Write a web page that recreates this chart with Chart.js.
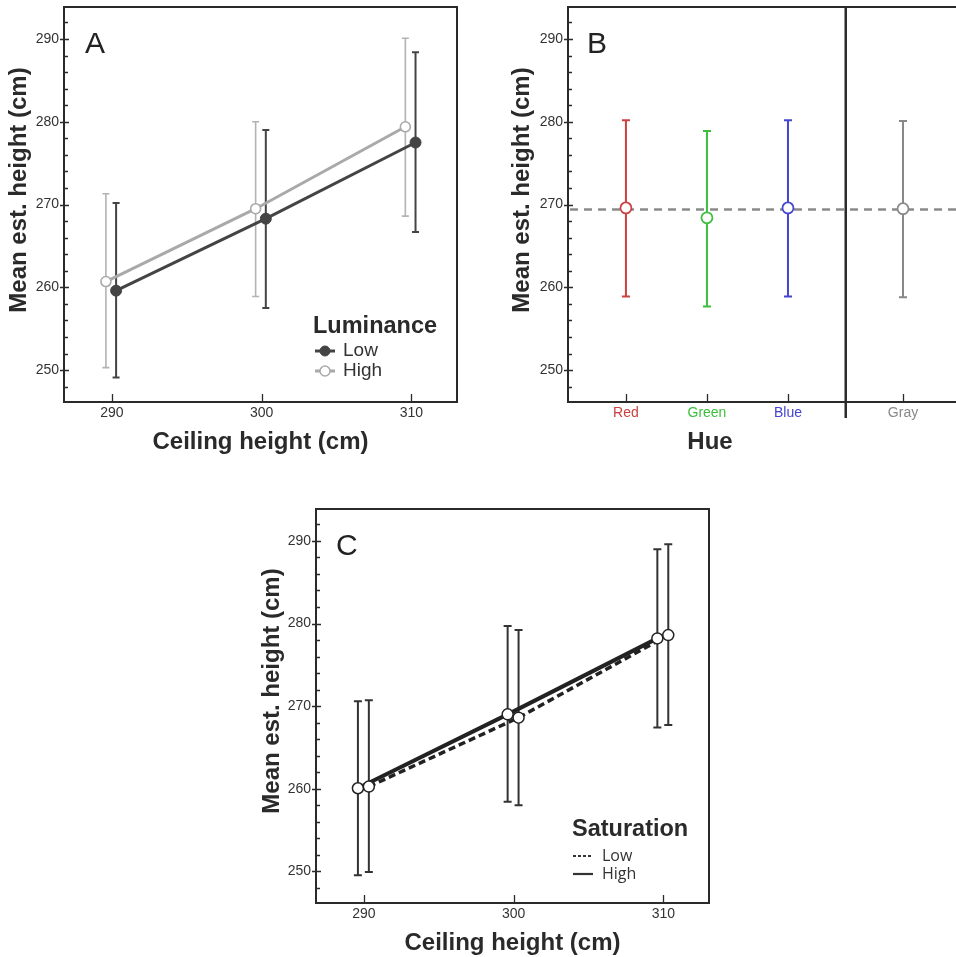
<!DOCTYPE html>
<html>
<head>
<meta charset="utf-8">
<script src="https://cdn.jsdelivr.net/npm/chart.js@4.4.1/dist/chart.umd.min.js"></script>
<style>
  html, body { margin: 0; padding: 0; background: #fff; width: 956px; height: 957px; overflow: hidden; }
  canvas { position: absolute; }
  #chartA { left: 0; top: 0; }
  #chartB { left: 480px; top: 0; }
  #chartC { left: 250px; top: 490px; }
</style>
</head>
<body>
<canvas id="chartA" width="470" height="460"></canvas>
<canvas id="chartB" width="476" height="460"></canvas>
<canvas id="chartC" width="480" height="467"></canvas>
<script>
// ---------------- DATA ----------------
const ceilingHeights = [290, 300, 310];
const yTickValues = [250, 260, 270, 280, 290];

// Panel A: Luminance
const lumLowMean  = [259.6, 268.3, 277.5];
const lumLowLower = [249.1, 257.5, 266.7];
const lumLowUpper = [270.2, 279.0, 288.4];
const lumHighMean  = [260.7, 269.5, 279.4];
const lumHighLower = [250.3, 258.9, 268.6];
const lumHighUpper = [271.3, 280.0, 290.1];

// Panel B: Hue
const hueCategories = ['Red', 'Green', 'Blue', 'Gray'];
const hueMean  = [269.6, 268.4, 269.6, 269.5];
const hueLower = [258.9, 257.7, 258.9, 258.8];
const hueUpper = [280.2, 278.9, 280.2, 280.1];
const hueGrandMean = 269.4;

// Panel C: Saturation
const satLowMean  = [260.25, 268.6, 278.6];
const satLowLower = [249.9, 258.0, 267.7];
const satLowUpper = [270.7, 279.2, 289.6];
const satHighMean  = [260.05, 269.0, 278.2];
const satHighLower = [249.5, 258.4, 267.4];
const satHighUpper = [270.6, 279.7, 289.0];

// ---------------- LAYOUT / STYLE ----------------
const FONT = '"Liberation Sans", Arial, Helvetica, sans-serif';
const Y_MIN = 246.15, Y_MAX = 293.87;
const X_MIN = 286.8, X_MAX = 313.05;
const OFF_A_LOW = 0.28, OFF_A_HIGH = -0.4;
const OFF_C_LOW = 0.33, OFF_C_HIGH = -0.4;
const huePositions = [1, 2, 3, 4.42];
const hueColors = ['#cc4040', '#3cbf3c', '#4545d0', '#888888'];
const HUE_SEPARATOR = 3.713;

// ---------------- PLUGINS ----------------
const errorBarPlugin = {
  id: 'errorBars',
  beforeDatasetsDraw(chart) {
    const ctx = chart.ctx, ys = chart.scales.y;
    chart.data.datasets.forEach((ds, i) => {
      if (!ds.errLower) return;
      const meta = chart.getDatasetMeta(i);
      ctx.save();
      meta.data.forEach((pt, j) => {
        const col = Array.isArray(ds.errColor) ? ds.errColor[j] : ds.errColor;
        const x = pt.x;
        const y1 = ys.getPixelForValue(ds.errLower[j]);
        const y2 = ys.getPixelForValue(ds.errUpper[j]);
        const c = ds.errCap;
        ctx.strokeStyle = col;
        ctx.lineWidth = ds.errWidth;
        ctx.beginPath();
        ctx.moveTo(x, y1); ctx.lineTo(x, y2);
        ctx.moveTo(x - c, y1); ctx.lineTo(x + c, y1);
        ctx.moveTo(x - c, y2); ctx.lineTo(x + c, y2);
        ctx.stroke();
      });
      ctx.restore();
    });
  }
};

const refLinePlugin = {
  id: 'refLine',
  beforeDatasetsDraw(chart, args, o) {
    if (o.value == null) return;
    const {ctx, chartArea: a} = chart;
    const py = chart.scales.y.getPixelForValue(o.value);
    ctx.save();
    ctx.strokeStyle = o.color; ctx.lineWidth = o.width; ctx.setLineDash(o.dash);
    ctx.beginPath(); ctx.moveTo(a.left + 2, py); ctx.lineTo(a.right, py); ctx.stroke();
    ctx.restore();
  }
};

const framePlugin = {
  id: 'frame',
  afterDatasetsDraw(chart, args, o) {
    const {ctx, chartArea: a} = chart;
    const xs = chart.scales.x, ys = chart.scales.y;
    ctx.save();
    ctx.strokeStyle = '#2a2a2a';
    ctx.lineWidth = 1.3;
    ctx.beginPath();
    for (let v = 248; v <= 292; v += 2) {
      const py = Math.round(ys.getPixelForValue(v)) + 0.5;
      if (v % 10 === 0) { ctx.moveTo(a.left - 4, py); ctx.lineTo(a.left + 5, py); }
      else { ctx.moveTo(a.left, py); ctx.lineTo(a.left + 4, py); }
    }
    (o.xTicks || []).forEach(v => {
      const px = Math.round(xs.getPixelForValue(v)) + 0.5;
      ctx.moveTo(px, a.bottom); ctx.lineTo(px, a.bottom - 8);
    });
    ctx.stroke();
    ctx.lineWidth = 2;
    ctx.beginPath();
    ctx.moveTo(a.right + (o.right ? 0 : 2), a.top); ctx.lineTo(a.left, a.top);
    ctx.lineTo(a.left, a.bottom); ctx.lineTo(a.right + (o.right ? 0 : 2), a.bottom);
    if (o.right) { ctx.lineTo(a.right, a.top); ctx.closePath(); }
    ctx.stroke();
    if (o.separator != null) {
      const px = xs.getPixelForValue(o.separator);
      ctx.lineWidth = 2.5;
      ctx.beginPath(); ctx.moveTo(px, a.top); ctx.lineTo(px, a.bottom + 16); ctx.stroke();
    }
    ctx.restore();
  }
};

const textPlugin = {
  id: 'texts',
  afterDraw(chart, args, o) {
    const ctx = chart.ctx;
    (o.items || []).forEach(t => {
      ctx.save();
      ctx.font = t.font; ctx.fillStyle = t.color || '#222';
      ctx.textAlign = t.align || 'left'; ctx.textBaseline = t.baseline || 'alphabetic';
      ctx.translate(t.x, t.y); if (t.rotate) ctx.rotate(t.rotate);
      ctx.fillText(t.text, 0, 0);
      ctx.restore();
    });
    (o.samples || []).forEach(s => {
      ctx.save();
      ctx.strokeStyle = s.color; ctx.lineWidth = s.width; ctx.setLineDash(s.dash || []);
      ctx.beginPath(); ctx.moveTo(s.x1, s.y); ctx.lineTo(s.x2, s.y); ctx.stroke();
      if (s.marker) {
        ctx.setLineDash([]);
        ctx.beginPath(); ctx.arc((s.x1 + s.x2) / 2, s.y, s.marker.r, 0, Math.PI * 2);
        ctx.fillStyle = s.marker.fill; ctx.fill();
        ctx.lineWidth = s.marker.bw; ctx.strokeStyle = s.color; ctx.stroke();
      }
      ctx.restore();
    });
  }
};

Chart.register(errorBarPlugin, refLinePlugin, framePlugin, textPlugin);

function yScale(width) {
  return {
    type: 'linear', min: Y_MIN, max: Y_MAX,
    afterBuildTicks: s => { s.ticks = yTickValues.map(v => ({ value: v })); },
    afterFit: s => { s.width = width; s.paddingTop = 0; s.paddingBottom = 0; },
    grid: { display: false, drawTicks: false },
    border: { display: false },
    ticks: { autoSkip: false, font: { family: FONT, size: 14 }, color: '#333', padding: 5 }
  };
}
function xHeightScale(height, titlePadBottom) {
  return {
    type: 'linear', min: X_MIN, max: X_MAX,
    afterBuildTicks: s => { s.ticks = ceilingHeights.map(v => ({ value: v })); },
    afterFit: s => { s.height = height; s.paddingLeft = 0; s.paddingRight = 0; },
    grid: { display: false, drawTicks: false },
    border: { display: false },
    ticks: { autoSkip: false, maxRotation: 0, font: { family: FONT, size: 14 }, color: '#333', padding: 3 },
    title: { display: true, text: 'Ceiling height (cm)', color: '#2a2a2a',
             font: { family: FONT, size: 24, weight: 'bold', lineHeight: 1 },
             padding: { top: 0, bottom: titlePadBottom } }
  };
}
const baseOpts = {
  responsive: false, animation: false, events: [],
};
const titleFont = 'bold 24px ' + FONT;
const letterFont = '30px ' + FONT;
const legendTitleFont = 'bold 23.5px ' + FONT;

// ---------------- PANEL A ----------------
new Chart(document.getElementById('chartA'), {
  type: 'scatter',
  data: {
    datasets: [
      {
        label: 'High',
        data: ceilingHeights.map((h, i) => ({ x: h + OFF_A_HIGH, y: lumHighMean[i] })),
        showLine: true, borderColor: '#a9a9a9', borderWidth: 3,
        pointRadius: 5, pointBackgroundColor: '#fff', pointBorderColor: '#a9a9a9', pointBorderWidth: 1.6,
        errLower: lumHighLower, errUpper: lumHighUpper, errColor: '#b3b3b3', errWidth: 1.6, errCap: 3.5,
        order: 2
      },
      {
        label: 'Low',
        data: ceilingHeights.map((h, i) => ({ x: h + OFF_A_LOW, y: lumLowMean[i] })),
        showLine: true, borderColor: '#444', borderWidth: 3,
        pointRadius: 5.5, pointBackgroundColor: '#444', pointBorderColor: '#444', pointBorderWidth: 1,
        errLower: lumLowLower, errUpper: lumLowUpper, errColor: '#444', errWidth: 2, errCap: 3.5,
        order: 1
      }
    ]
  },
  options: {
    ...baseOpts,
    layout: { autoPadding: false, padding: { top: 7, right: 13, left: 0, bottom: 0 } },
    scales: { x: xHeightScale(58, 6), y: yScale(64) },
    plugins: {
      legend: { display: false }, tooltip: { enabled: false },
      frame: { right: true, xTicks: ceilingHeights },
      texts: {
        items: [
          { text: 'A', x: 85, y: 53, font: letterFont, color: '#222' },
          { text: 'Mean est. height (cm)', x: 19, y: 190, font: titleFont, align: 'center', baseline: 'middle', rotate: -Math.PI / 2, color: '#2a2a2a' },
          { text: 'Luminance', x: 313, y: 333, font: legendTitleFont, color: '#2a2a2a' },
          { text: 'Low', x: 343, y: 351, font: '19px ' + FONT, baseline: 'middle', color: '#333' },
          { text: 'High', x: 343, y: 371, font: '19px ' + FONT, baseline: 'middle', color: '#333' }
        ],
        samples: [
          { x1: 315, x2: 335, y: 351, color: '#444', width: 3, marker: { r: 5, fill: '#444', bw: 1 } },
          { x1: 315, x2: 335, y: 371, color: '#a9a9a9', width: 3, marker: { r: 5, fill: '#fff', bw: 1.5 } }
        ]
      }
    }
  }
});

// ---------------- PANEL B ----------------
new Chart(document.getElementById('chartB'), {
  type: 'scatter',
  data: {
    datasets: [
      {
        label: 'Hue',
        data: hueCategories.map((c, i) => ({ x: huePositions[i], y: hueMean[i] })),
        showLine: false,
        pointRadius: 5.5, pointBackgroundColor: '#fff', pointBorderColor: hueColors, pointBorderWidth: 1.8,
        errLower: hueLower, errUpper: hueUpper, errColor: hueColors, errWidth: 2, errCap: 4
      }
    ]
  },
  options: {
    ...baseOpts,
    layout: { autoPadding: false, padding: { top: 7, right: 0, left: 0, bottom: 0 } },
    scales: {
      x: {
        type: 'linear', min: 0.285, max: 5.074,
        afterBuildTicks: s => { s.ticks = huePositions.map(v => ({ value: v })); },
        afterFit: s => { s.height = 58; s.paddingLeft = 0; s.paddingRight = 0; },
        grid: { display: false, drawTicks: false },
        border: { display: false },
        ticks: {
          autoSkip: false, maxRotation: 0, padding: 3,
          font: { family: FONT, size: 14 },
          color: ctx => hueColors[ctx.index],
          callback: (v, i) => hueCategories[i]
        }
      },
      y: yScale(88)
    },
    plugins: {
      legend: { display: false }, tooltip: { enabled: false },
      refLine: { value: hueGrandMean, color: '#8a8a8a', width: 2.5, dash: [8, 6] },
      frame: { right: false, xTicks: huePositions, separator: HUE_SEPARATOR },
      texts: {
        items: [
          { text: 'B', x: 107, y: 53, font: letterFont, color: '#222' },
          { text: 'Mean est. height (cm)', x: 42, y: 190, font: titleFont, align: 'center', baseline: 'middle', rotate: -Math.PI / 2, color: '#2a2a2a' },
          { text: 'Hue', x: 230, y: 442, font: titleFont, align: 'center', baseline: 'middle', color: '#2a2a2a' }
        ]
      }
    }
  }
});

// ---------------- PANEL C ----------------
new Chart(document.getElementById('chartC'), {
  type: 'scatter',
  data: {
    datasets: [
      {
        label: 'High line',
        data: ceilingHeights.map((h, i) => ({ x: h + OFF_C_HIGH, y: satHighMean[i] })),
        showLine: true, borderColor: '#222', borderWidth: 4, pointRadius: 0, order: 4
      },
      {
        label: 'Low line',
        data: ceilingHeights.map((h, i) => ({ x: h + OFF_C_LOW, y: satLowMean[i] })),
        showLine: true, borderColor: '#222', borderWidth: 3.5, borderDash: [7, 4], pointRadius: 0, order: 3
      },
      {
        label: 'High',
        data: ceilingHeights.map((h, i) => ({ x: h + OFF_C_HIGH, y: satHighMean[i] })),
        showLine: false,
        pointRadius: 5.5, pointBackgroundColor: '#fff', pointBorderColor: '#222', pointBorderWidth: 1.5,
        errLower: satHighLower, errUpper: satHighUpper, errColor: '#333', errWidth: 2, errCap: 4,
        order: 2
      },
      {
        label: 'Low',
        data: ceilingHeights.map((h, i) => ({ x: h + OFF_C_LOW, y: satLowMean[i] })),
        showLine: false,
        pointRadius: 5.5, pointBackgroundColor: '#fff', pointBorderColor: '#222', pointBorderWidth: 1.5,
        errLower: satLowLower, errUpper: satLowUpper, errColor: '#333', errWidth: 2, errCap: 4,
        order: 1
      }
    ]
  },
  options: {
    ...baseOpts,
    layout: { autoPadding: false, padding: { top: 19, right: 21, left: 0, bottom: 0 } },
    scales: { x: xHeightScale(54, 2), y: yScale(66) },
    plugins: {
      legend: { display: false }, tooltip: { enabled: false },
      frame: { right: true, xTicks: ceilingHeights },
      texts: {
        items: [
          { text: 'C', x: 86, y: 65, font: letterFont, color: '#222' },
          { text: 'Mean est. height (cm)', x: 22, y: 201, font: titleFont, align: 'center', baseline: 'middle', rotate: -Math.PI / 2, color: '#2a2a2a' },
          { text: 'Saturation', x: 322, y: 346, font: legendTitleFont, color: '#2a2a2a' },
          { text: 'Low', x: 352, y: 366, font: '16px "Open Sans", "Noto Sans", sans-serif', baseline: 'middle', color: '#333' },
          { text: 'High', x: 352, y: 384, font: '16px "Open Sans", "Noto Sans", sans-serif', baseline: 'middle', color: '#333' }
        ],
        samples: [
          { x1: 323, x2: 343, y: 366, color: '#333', width: 2.2, dash: [3, 2] },
          { x1: 323, x2: 343, y: 384, color: '#333', width: 2.2 }
        ]
      }
    }
  }
});
</script>
</body>
</html>
